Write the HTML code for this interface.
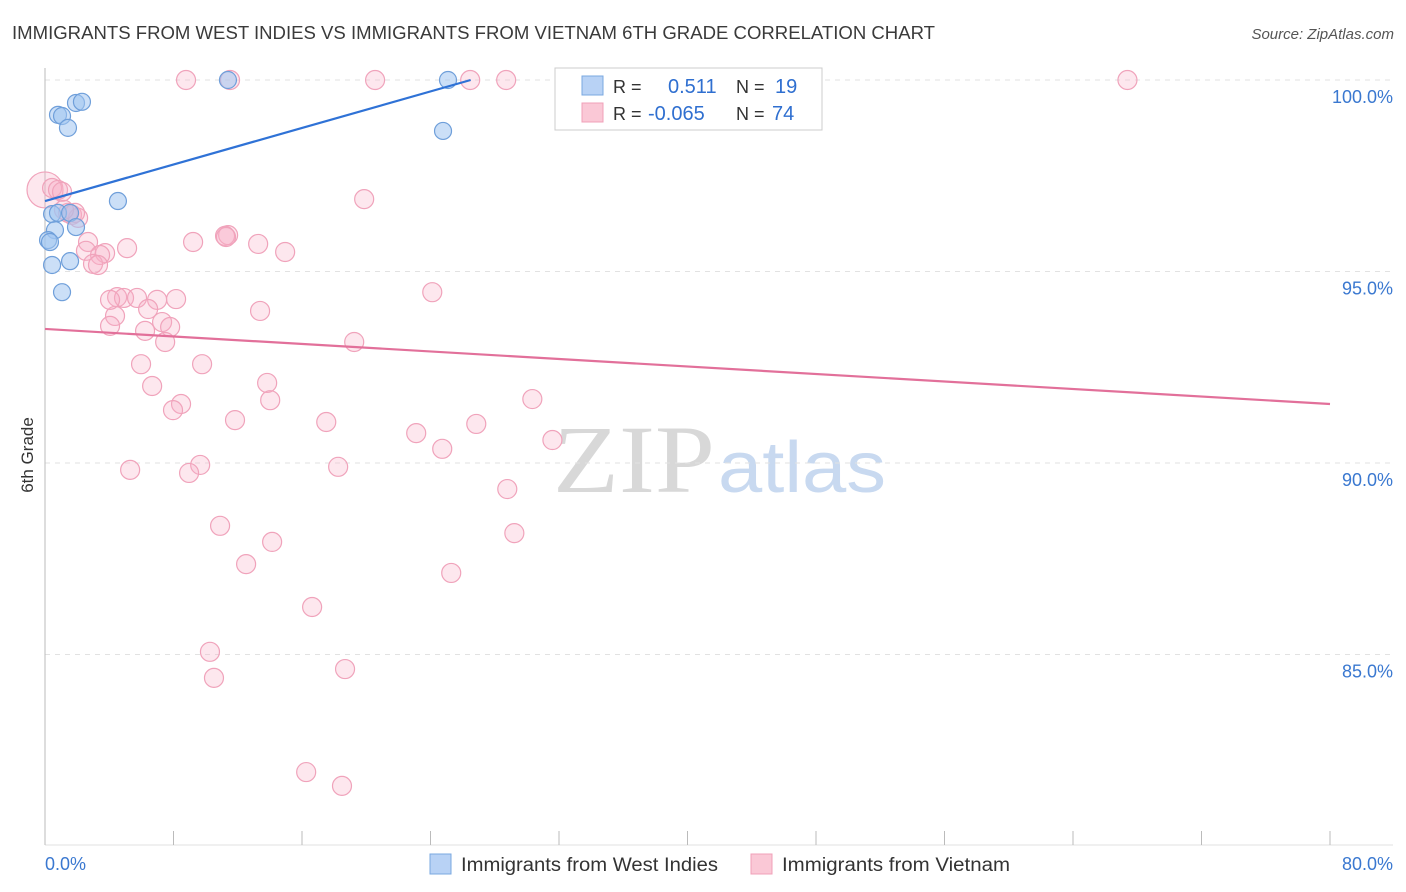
<!DOCTYPE html>
<html><head><meta charset="utf-8">
<style>
body{margin:0;background:#fff;font-family:"Liberation Sans",sans-serif;}
svg{display:block}
</style></head>
<body>
<svg id="chart" width="1406" height="892" viewBox="0 0 1406 892" xmlns="http://www.w3.org/2000/svg" font-family="Liberation Sans, sans-serif">
<text x="12" y="39" font-size="18" fill="#3a3a3a" textLength="923" lengthAdjust="spacingAndGlyphs">IMMIGRANTS FROM WEST INDIES VS IMMIGRANTS FROM VIETNAM 6TH GRADE CORRELATION CHART</text>
<text x="1394" y="39" font-size="15" fill="#555" font-style="italic" text-anchor="end">Source: ZipAtlas.com</text>
<text transform="translate(33,455) rotate(-90)" font-size="17" fill="#333" text-anchor="middle">6th Grade</text>
<g>
<text x="553" y="492" font-size="96" fill="#d8d8d8" font-family="Liberation Serif, serif" textLength="162" lengthAdjust="spacingAndGlyphs">ZIP</text>
<text x="718" y="492" font-size="72" fill="#c8d9f0" textLength="168" lengthAdjust="spacingAndGlyphs">atlas</text>
</g>
<g id="grid"></g>
<g id="axes"></g>
<g id="marks"></g>
<g>
<rect x="555" y="68" width="267" height="62" fill="#fff" stroke="#ccc"/>
<rect x="582" y="76" width="21" height="19" fill="#b8d2f5" stroke="#7aa8e0"/>
<rect x="582" y="103" width="21" height="19" fill="#fac8d6" stroke="#f0a0b8"/>
<text x="613" y="93" font-size="18" fill="#333">R =</text>
<text x="668" y="93" font-size="20" fill="#2f6fd0">0.511</text>
<text x="736" y="93" font-size="18" fill="#333">N =</text>
<text x="775" y="93" font-size="20" fill="#2f6fd0">19</text>
<text x="613" y="120" font-size="18" fill="#333">R =</text>
<text x="648" y="120" font-size="20" fill="#2f6fd0">-0.065</text>
<text x="736" y="120" font-size="18" fill="#333">N =</text>
<text x="772" y="120" font-size="20" fill="#2f6fd0">74</text>
</g>
<g>
<rect x="430" y="854" width="21" height="20" fill="#b8d2f5" stroke="#7aa8e0"/>
<text x="461" y="871" font-size="19" fill="#333" textLength="257" lengthAdjust="spacingAndGlyphs">Immigrants from West Indies</text>
<rect x="751" y="854" width="21" height="20" fill="#fac8d6" stroke="#f0a0b8"/>
<text x="782" y="871" font-size="19" fill="#333" textLength="228" lengthAdjust="spacingAndGlyphs">Immigrants from Vietnam</text>
</g>
</svg>
<script>
const yTicks=[100,95,90,85];
const yTickLabels=["100.0%","95.0%","90.0%","85.0%"];
const xTicks=[0,8,16,24,32,40,48,56,64,72,80];
const xEndLabels=["0.0%","80.0%"];
const blueX=[11.39,25.09,1.93,2.30,0.81,1.06,1.43,24.78,4.54,0.44,0.81,1.56,0.62,1.93,0.19,0.31,0.44,1.56,1.06];
const blueY=[100,100,99.40,99.43,99.09,99.06,98.75,98.67,96.84,96.50,96.53,96.53,96.08,96.16,95.82,95.77,95.17,95.27,94.46];
const pinkX=[8.78,11.52,20.55,26.47,28.71,43.22,67.39,0,0.44,0.81,1.06,19.87,1.43,1.68,2.06,1.87,1.18,11.40,11.21,9.22,13.27,14.95,5.11,2.68,2.55,3.74,3.43,2.99,3.30,24.11,4.49,4.92,5.73,6.98,8.16,6.42,13.39,4.36,4.05,7.29,7.79,6.23,19.25,7.48,5.98,9.78,6.67,13.83,8.47,14.02,30.34,7.97,11.83,17.51,26.85,23.11,31.59,24.73,5.30,9.66,8.97,18.25,28.78,10.90,29.22,14.14,12.52,25.29,16.63,10.27,18.68,10.52,16.26,18.49,11.27,4.05];
const pinkY=[100,100,100,100,100,100,100,97.13,97.18,97.13,97.08,96.89,96.53,96.48,96.40,96.53,96.61,95.95,95.93,95.77,95.72,95.51,95.61,95.77,95.54,95.48,95.43,95.20,95.17,94.46,94.33,94.31,94.31,94.26,94.28,94.02,93.97,93.84,93.58,93.68,93.55,93.45,93.16,93.16,92.58,92.58,92.01,92.09,91.54,91.64,91.67,91.38,91.12,91.07,91.02,90.78,90.60,90.37,89.82,89.95,89.74,89.90,89.32,88.36,88.17,87.94,87.36,87.13,86.24,85.07,84.62,84.39,81.93,81.57,95.90,94.26];
const blueTrend=[0,96.84,26.5,100];
const pinkTrend=[0,93.50,80,91.54];
const NS="http://www.w3.org/2000/svg";
const xs=v=>45+v/80*1285;
const ys=v=>80+(100-v)*38.3;
function mk(p,t,a){const e=document.createElementNS(NS,t);for(const k in a)e.setAttribute(k,a[k]);p.appendChild(e);return e;}
const grid=document.getElementById('grid'),axes=document.getElementById('axes'),marks=document.getElementById('marks');
yTicks.forEach((v,i)=>{
 const l=mk(grid,'line',{x1:45,x2:1393,y1:ys(v),y2:ys(v),stroke:'#e2e2e2','stroke-dasharray':'5,5'});
 
 
 const t=mk(axes,'text',{x:1393,y:ys(v)+23,'font-size':18,fill:'#3a78d0','text-anchor':'end'});
 t.textContent=yTickLabels[i];
 
 
});
const ya=mk(axes,'line',{x1:45,x2:45,y1:68,y2:845,stroke:'#bbb'});


const xa=mk(axes,'line',{x1:45,x2:1393,y1:845,y2:845,stroke:'#e2e2e2'});


xTicks.forEach(v=>{
 const t=mk(axes,'line',{x1:xs(v),x2:xs(v),y1:831,y2:845,stroke:'#bbb'});
 
 
});
[[0,'start',45],[80,'end',1393]].forEach((d,i)=>{
 const t=mk(axes,'text',{x:d[2],y:870,'font-size':18,fill:'#3a78d0','text-anchor':d[1]});
 t.textContent=xEndLabels[i];
 
 
});
pinkX.forEach((x,i)=>{
 const big=(x===0&&pinkY[i]>97);
 const c=mk(marks,'circle',{cx:xs(x),cy:ys(pinkY[i]),r:big?18:9.5,fill:'rgba(248,175,198,0.3)',stroke:'#f0a3bb','stroke-width':1.2});
 
 
});
blueX.forEach((x,i)=>{
 const c=mk(marks,'circle',{cx:xs(x),cy:ys(blueY[i]),r:8.5,fill:'rgba(160,196,240,0.55)',stroke:'#6f9fda','stroke-width':1.2});
 
 
});
const bl=mk(marks,'line',{x1:xs(blueTrend[0]),y1:ys(blueTrend[1]),x2:xs(blueTrend[2]),y2:ys(blueTrend[3]),stroke:'#2f72d6','stroke-width':2.2});


const pl=mk(marks,'line',{x1:xs(pinkTrend[0]),y1:ys(pinkTrend[1]),x2:xs(pinkTrend[2]),y2:ys(pinkTrend[3]),stroke:'#e2709a','stroke-width':2.2});


</script>
</body></html>
